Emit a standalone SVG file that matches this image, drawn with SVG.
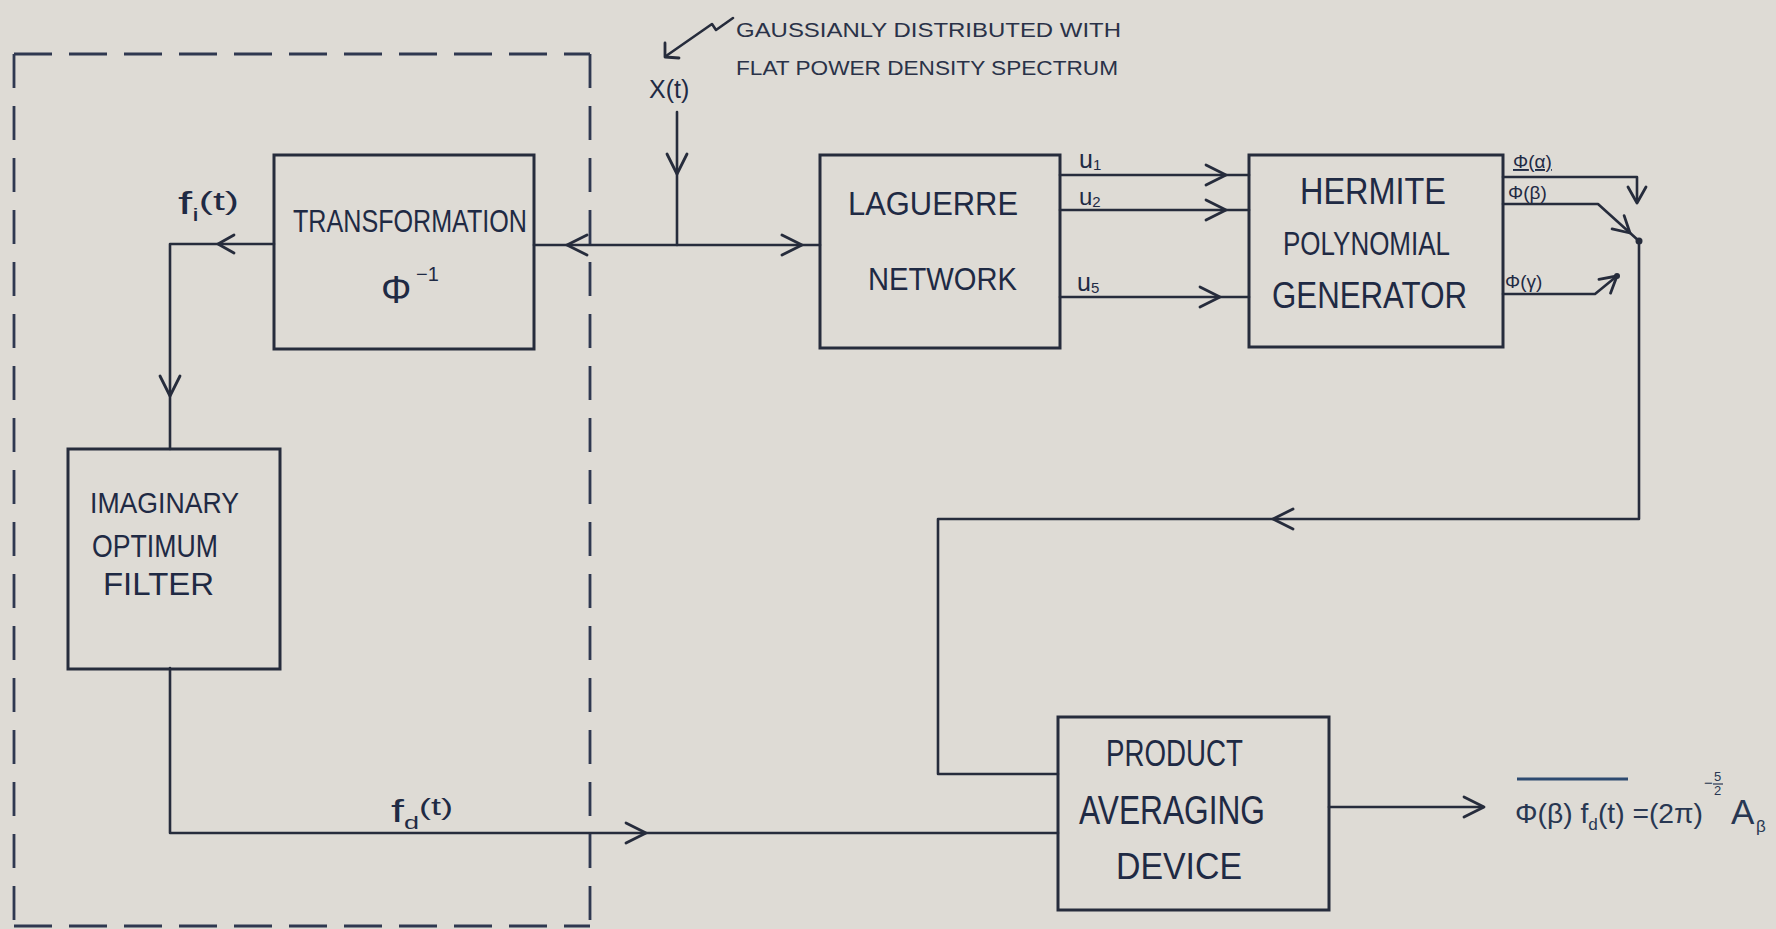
<svg xmlns="http://www.w3.org/2000/svg" xmlns:xlink="http://www.w3.org/1999/xlink" width="1776" height="929" viewBox="0 0 1776 929">
<style>
.box{fill:none;stroke:#262c3c;stroke-width:3}
.ln{fill:none;stroke:#262c3c;stroke-width:2.6;stroke-linecap:round;stroke-linejoin:round}
.dash{fill:none;stroke:#2f3850;stroke-width:2.8}
.ah{fill:none;stroke:#262c3c;stroke-width:2.8;stroke-linecap:round;stroke-linejoin:round}
.lbl{font-family:"Liberation Sans",Arial,sans-serif;fill:#1f2a44}
.note{font-size:20px;fill:#2a3248}
.math{font-family:"Liberation Sans",Arial,sans-serif;fill:#283752}
</style>
<defs>
<path id="chev" d="M-20,-10 L0,0 L-20,10"/>
<path id="chevs" d="M-16,-9 L0,0 L-16,9"/>
</defs>
<rect x="0" y="0" width="1776" height="929" fill="#dedbd5"/>

<!-- dashed boundary -->
<g id="boundary">
<path class="dash" d="M14,54 H590" stroke-dasharray="38,17"/>
<path class="dash" d="M14,54 V929" stroke-dasharray="34,18"/>
<path class="dash" d="M590,54 V929" stroke-dasharray="34,18"/>
<path class="dash" d="M14,926 H590" stroke-dasharray="38,17"/>
</g>

<!-- connectors -->
<g id="connectors">
<path class="ln" d="M677,112 V245"/>
<use href="#chev" class="ah" transform="translate(677,174) rotate(90)"/>
<path class="ln" d="M733,18 L716,30 L712,24 L666,56"/>
<path class="ah" d="M665,43 L665,57 L679,58"/>
<path class="ln" d="M534,245 H820"/>
<use href="#chev" class="ah" transform="translate(567,245) rotate(180)"/>
<use href="#chev" class="ah" transform="translate(802,245)"/>
<path class="ln" d="M274,244 H170 V449"/>
<use href="#chevs" class="ah" transform="translate(218,244) rotate(180)"/>
<use href="#chev" class="ah" transform="translate(170,396) rotate(90)"/>
<path class="ln" d="M170,668 V833 H1058"/>
<use href="#chev" class="ah" transform="translate(646,833)"/>
<path class="ln" d="M1060,175 H1249"/>
<path class="ln" d="M1060,210 H1249"/>
<path class="ln" d="M1060,297 H1249"/>
<use href="#chev" class="ah" transform="translate(1226,175)"/>
<use href="#chev" class="ah" transform="translate(1226,210)"/>
<use href="#chev" class="ah" transform="translate(1220,297)"/>
<path class="ln" d="M1503,177 H1637 V201"/>
<use href="#chevs" class="ah" transform="translate(1637,203) rotate(90)"/>
<path class="ln" d="M1503,204 H1598 L1639,241"/>
<use href="#chevs" class="ah" transform="translate(1630,233) rotate(42)"/>
<path class="ln" d="M1503,294 H1595 L1617,276"/>
<use href="#chevs" class="ah" transform="translate(1617,276) rotate(-40)"/>
<circle cx="1639" cy="241" r="3.5" fill="#262c3c"/>
<circle cx="1617" cy="276" r="3" fill="#262c3c"/>
<path class="ln" d="M1639,241 V519 H938 V774 H1058"/>
<use href="#chev" class="ah" transform="translate(1273,519) rotate(180)"/>
<path class="ln" d="M1329,807 H1483"/>
<use href="#chev" class="ah" transform="translate(1484,807)"/>
</g>

<!-- nodes -->
<g id="transformation">
<rect class="box" x="274" y="155" width="260" height="194"/>
<text class="lbl" x="293" y="232" font-size="32" textLength="234" lengthAdjust="spacingAndGlyphs">TRANSFORMATION</text>
<text class="lbl" x="381" y="303" font-size="38" fill="#2d4e78">Φ</text>
<text class="lbl" x="416" y="281" font-size="20">−1</text>
</g>

<g id="laguerre">
<rect class="box" x="820" y="155" width="240" height="193"/>
<text class="lbl" x="848" y="215" font-size="34" textLength="170" lengthAdjust="spacingAndGlyphs">LAGUERRE</text>
<text class="lbl" x="868" y="290" font-size="32" textLength="149" lengthAdjust="spacingAndGlyphs">NETWORK</text>
</g>

<g id="hermite">
<rect class="box" x="1249" y="155" width="254" height="192"/>
<text class="lbl" x="1300" y="204" font-size="37" textLength="146" lengthAdjust="spacingAndGlyphs">HERMITE</text>
<text class="lbl" x="1283" y="255" font-size="33" textLength="167" lengthAdjust="spacingAndGlyphs">POLYNOMIAL</text>
<text class="lbl" x="1272" y="308" font-size="37" textLength="195" lengthAdjust="spacingAndGlyphs">GENERATOR</text>
</g>

<g id="filter">
<rect class="box" x="68" y="449" width="212" height="220"/>
<text class="lbl" x="90" y="513" font-size="29" textLength="149" lengthAdjust="spacingAndGlyphs">IMAGINARY</text>
<text class="lbl" x="92" y="557" font-size="31" textLength="126" lengthAdjust="spacingAndGlyphs">OPTIMUM</text>
<text class="lbl" x="103" y="595" font-size="31" textLength="111" lengthAdjust="spacingAndGlyphs">FILTER</text>
</g>

<g id="product">
<rect class="box" x="1058" y="717" width="271" height="193"/>
<text class="lbl" x="1106" y="766" font-size="36" textLength="137" lengthAdjust="spacingAndGlyphs">PRODUCT</text>
<text class="lbl" x="1079" y="824" font-size="40" textLength="186" lengthAdjust="spacingAndGlyphs">AVERAGING</text>
<text class="lbl" x="1116" y="879" font-size="37" textLength="126" lengthAdjust="spacingAndGlyphs">DEVICE</text>
</g>

<!-- labels -->
<g id="labels">
<text class="lbl note" x="736" y="37" textLength="385" lengthAdjust="spacingAndGlyphs">GAUSSIANLY  DISTRIBUTED  WITH</text>
<text class="lbl note" x="736" y="75" textLength="382" lengthAdjust="spacingAndGlyphs">FLAT  POWER  DENSITY  SPECTRUM</text>
<text class="lbl" x="649" y="98" font-size="25">X(t)</text>
<text class="lbl" x="178" y="214" font-size="31" textLength="61" lengthAdjust="spacingAndGlyphs">f<tspan font-size="18" dy="7">i</tspan><tspan font-size="26" dy="-11">(t)</tspan></text>
<text class="lbl" x="391" y="822" font-size="31" textLength="62" lengthAdjust="spacingAndGlyphs">f<tspan font-size="18" dy="7">d</tspan><tspan font-size="24" dy="-14">(t)</tspan></text>
<text class="lbl" x="1079" y="168" font-size="25">u<tspan font-size="15" dy="2">1</tspan></text>
<text class="lbl" x="1079" y="205" font-size="24">u<tspan font-size="15" dy="2">2</tspan></text>
<text class="lbl" x="1077" y="291" font-size="25">u<tspan font-size="15" dy="2">5</tspan></text>
<text class="lbl" x="1513" y="168" font-size="19" text-decoration="underline">Φ<tspan text-decoration="none">(α)</tspan></text>
<text class="lbl" x="1508" y="199" font-size="19">Φ(β)</text>
<text class="lbl" x="1505" y="288" font-size="19">Φ(γ)</text>
<path d="M1517,779 H1628" stroke="#2d4a70" stroke-width="3"/>
<text class="math" x="1515" y="823" font-size="28" textLength="188" lengthAdjust="spacingAndGlyphs">Φ(β) f<tspan font-size="17" dy="7">d</tspan><tspan dy="-7">(t) =(2π)</tspan></text>
<text class="math" x="1704" y="788" font-size="15">−</text>
<text class="math" x="1714" y="781" font-size="13">5</text>
<path d="M1713,784 H1723" stroke="#283752" stroke-width="1.2"/>
<text class="math" x="1714" y="795" font-size="13">2</text>
<text class="math" x="1731" y="824" font-size="35">A</text>
<text class="math" x="1756" y="832" font-size="17">β</text>
</g>
</svg>
